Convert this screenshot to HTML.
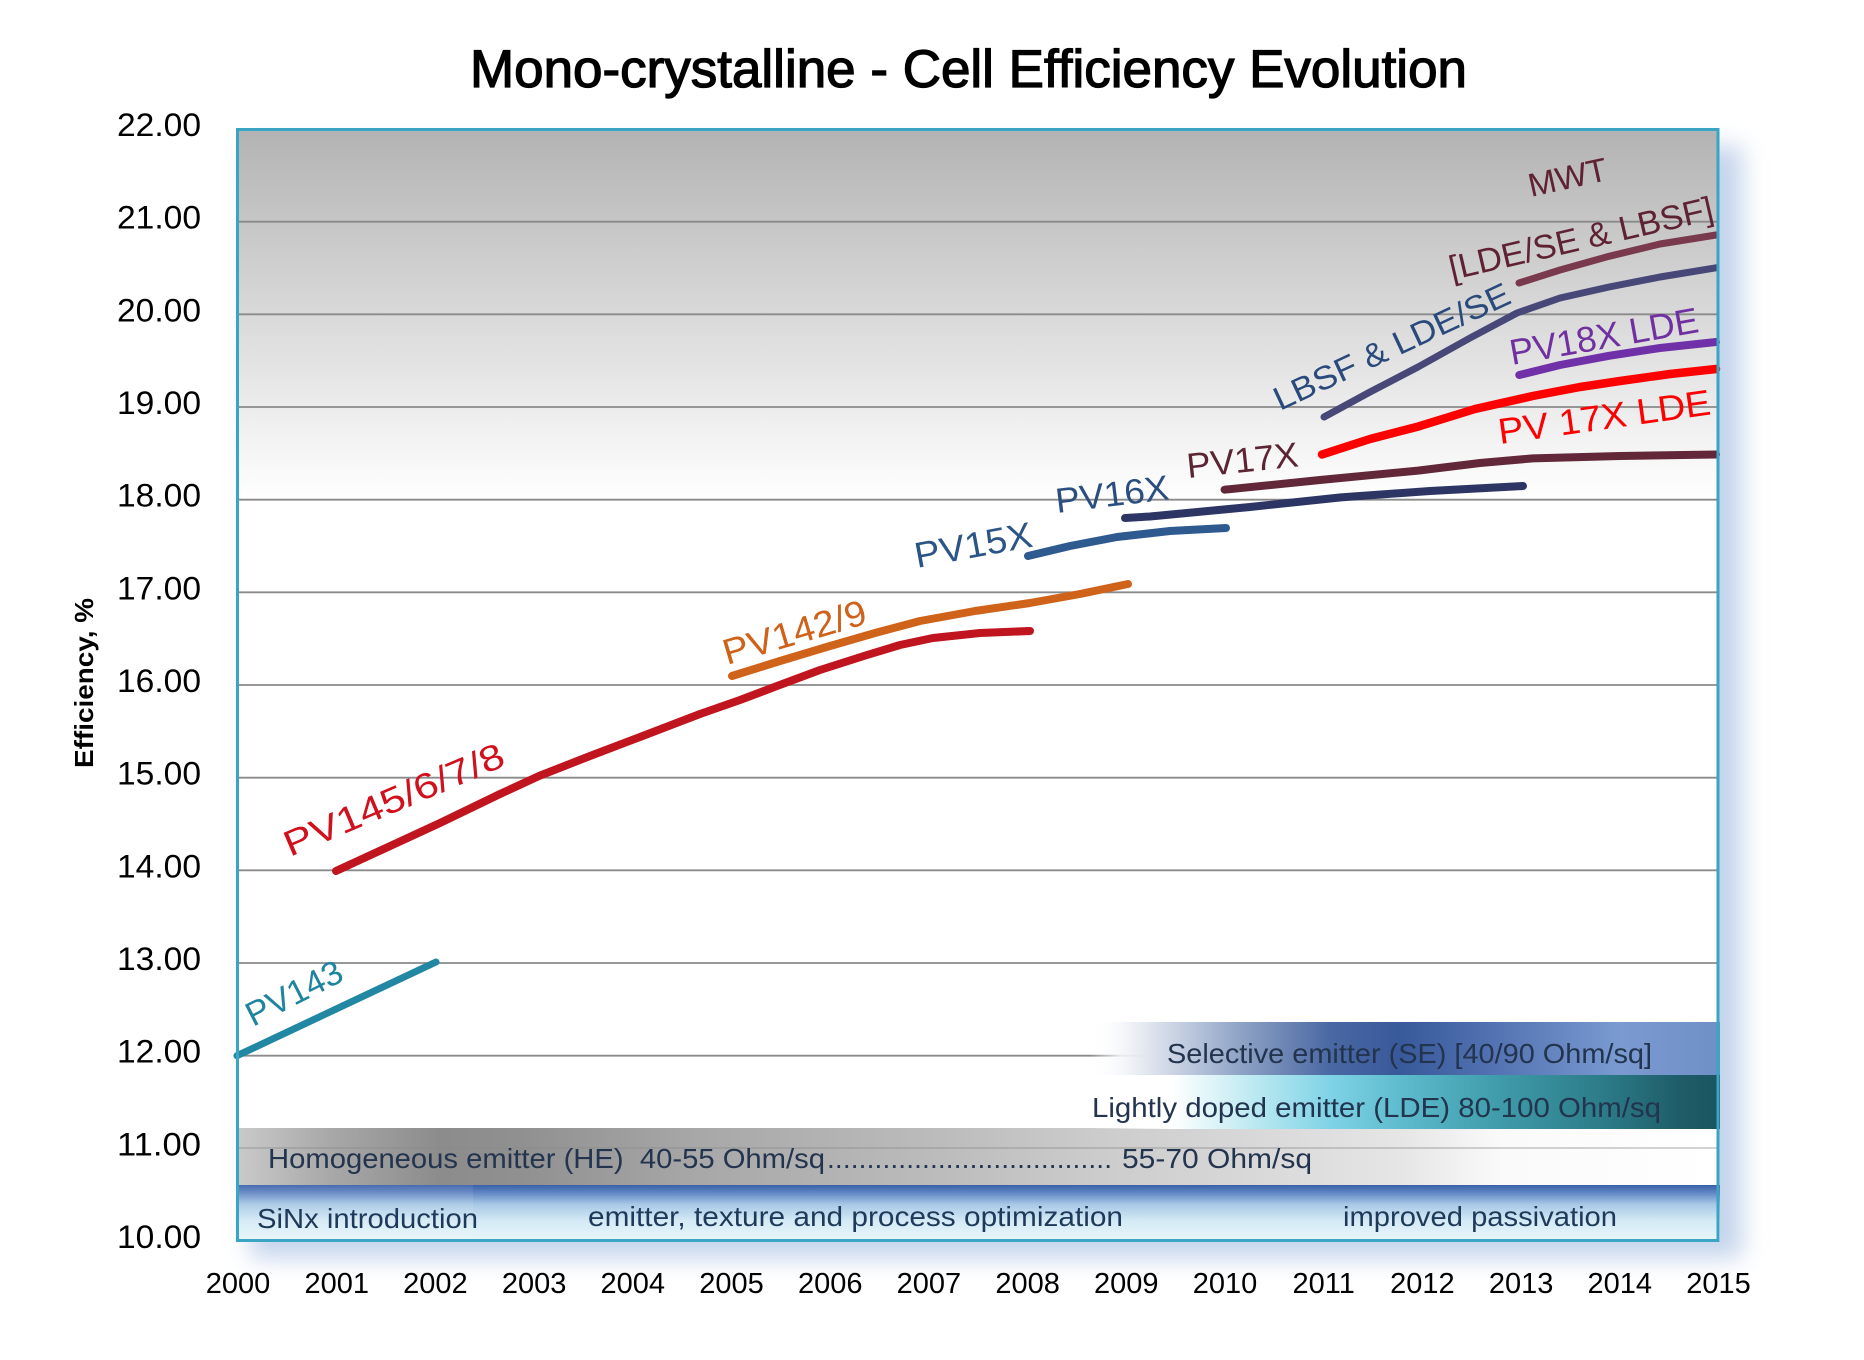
<!DOCTYPE html>
<html>
<head>
<meta charset="utf-8">
<style>
html,body{margin:0;padding:0;background:#ffffff;}
svg{display:block;}
text{font-family:"Liberation Sans",Arial,sans-serif;}
</style>
</head>
<body>
<svg width="1864" height="1360" viewBox="0 0 1864 1360" xmlns="http://www.w3.org/2000/svg">
  <defs>
    <filter id="sh" x="-10%" y="-10%" width="120%" height="120%">
      <feGaussianBlur stdDeviation="12"/>
    </filter>
    <linearGradient id="bg" x1="0" y1="129" x2="0" y2="1241" gradientUnits="userSpaceOnUse">
      <stop offset="0" stop-color="#b3b3b3"/>
      <stop offset="0.334" stop-color="#ffffff"/>
      <stop offset="1" stop-color="#ffffff"/>
    </linearGradient>
    <linearGradient id="he" x1="237" y1="0" x2="1718" y2="0" gradientUnits="userSpaceOnUse">
      <stop offset="0" stop-color="#cacaca"/>
      <stop offset="0.063" stop-color="#a8a8a8"/>
      <stop offset="0.137" stop-color="#8c8c8c"/>
      <stop offset="0.191" stop-color="#909090"/>
      <stop offset="0.313" stop-color="#a8a8a8"/>
      <stop offset="0.475" stop-color="#bcbcbc"/>
      <stop offset="0.583" stop-color="#cccccc"/>
      <stop offset="0.684" stop-color="#d8d8d8"/>
      <stop offset="0.788" stop-color="#e6e6e6"/>
      <stop offset="0.853" stop-color="#fafafa"/>
      <stop offset="1" stop-color="#ffffff"/>
    </linearGradient>
    <linearGradient id="sinx" x1="0" y1="1185" x2="0" y2="1240" gradientUnits="userSpaceOnUse">
      <stop offset="0" stop-color="#3a5fa8"/>
      <stop offset="0.12" stop-color="#5a80c0"/>
      <stop offset="0.35" stop-color="#a8c8e6"/>
      <stop offset="0.65" stop-color="#d4eaf5"/>
      <stop offset="1" stop-color="#e8f5fa"/>
    </linearGradient>
    <linearGradient id="se" x1="1090" y1="0" x2="1720" y2="0" gradientUnits="userSpaceOnUse">
      <stop offset="0" stop-color="#ffffff" stop-opacity="0"/>
      <stop offset="0.05" stop-color="#f4f6fa" stop-opacity="0.9"/>
      <stop offset="0.095" stop-color="#dfe5ee"/>
      <stop offset="0.238" stop-color="#8fa3c6"/>
      <stop offset="0.381" stop-color="#4a68a3"/>
      <stop offset="0.492" stop-color="#38599a"/>
      <stop offset="0.651" stop-color="#5474b3"/>
      <stop offset="0.84" stop-color="#7a9ad1"/>
      <stop offset="1" stop-color="#6f8fc7"/>
    </linearGradient>
    <linearGradient id="lde" x1="1090" y1="0" x2="1720" y2="0" gradientUnits="userSpaceOnUse">
      <stop offset="0" stop-color="#ffffff" stop-opacity="0"/>
      <stop offset="0.13" stop-color="#ffffff"/>
      <stop offset="0.254" stop-color="#bfeaf2"/>
      <stop offset="0.381" stop-color="#7fd3e6"/>
      <stop offset="0.498" stop-color="#5cbacc"/>
      <stop offset="0.657" stop-color="#3e9aa8"/>
      <stop offset="0.816" stop-color="#2c7b88"/>
      <stop offset="0.937" stop-color="#1e5c68"/>
      <stop offset="1" stop-color="#1a5560"/>
    </linearGradient>
  </defs>

  <!-- shadow -->
  <rect x="250" y="146" width="1492" height="1112" fill="#c4d4ec" filter="url(#sh)"/>

  <!-- plot background -->
  <rect x="237" y="129" width="1481" height="1112" fill="url(#bg)"/>

  <!-- gridlines -->
  <g stroke="#8a8a8a" stroke-width="1.8">
    <line x1="237" y1="221.7" x2="1718" y2="221.7"/>
    <line x1="237" y1="314.3" x2="1718" y2="314.3"/>
    <line x1="237" y1="407" x2="1718" y2="407"/>
    <line x1="237" y1="499.7" x2="1718" y2="499.7"/>
    <line x1="237" y1="592.3" x2="1718" y2="592.3"/>
    <line x1="237" y1="685" x2="1718" y2="685"/>
    <line x1="237" y1="777.7" x2="1718" y2="777.7"/>
    <line x1="237" y1="870.3" x2="1718" y2="870.3"/>
    <line x1="237" y1="963" x2="1718" y2="963"/>
    <line x1="237" y1="1055.7" x2="1718" y2="1055.7"/>
  </g>

  <!-- bands -->
  <rect x="237" y="1128" width="1481" height="57" fill="url(#he)"/>
  <line x1="237" y1="1148" x2="1718" y2="1148" stroke="#8a8a8a" stroke-width="1.5" opacity="0.5"/>
  <rect x="1090" y="1022" width="630" height="53" fill="url(#se)"/>
  <rect x="1090" y="1075" width="630" height="54" fill="url(#lde)"/>
  <rect x="237" y="1185" width="1483" height="56" fill="url(#sinx)"/>
  <rect x="237" y="1185" width="236" height="56" fill="#ffffff" opacity="0.08"/>

  <!-- band texts -->
  <g fill="#22344e" font-size="28">
    <text x="1167" y="1063" textLength="485" lengthAdjust="spacingAndGlyphs">Selective emitter (SE) [40/90 Ohm/sq]</text>
    <text x="1092" y="1117" textLength="569" lengthAdjust="spacingAndGlyphs">Lightly doped emitter (LDE) 80-100 Ohm/sq</text>
    <text x="268" y="1168" textLength="557" lengthAdjust="spacingAndGlyphs" style="white-space:pre">Homogeneous emitter (HE)  40-55 Ohm/sq</text>
    <text x="827" y="1168" textLength="285" lengthAdjust="spacing">....................................</text>
    <text x="1122" y="1168" textLength="190" lengthAdjust="spacingAndGlyphs">55-70 Ohm/sq</text>
    <text x="257" y="1228" textLength="221" lengthAdjust="spacingAndGlyphs" fill="#1e3a5a">SiNx introduction</text>
    <text x="588" y="1226" textLength="535" lengthAdjust="spacingAndGlyphs" fill="#1e3a5a">emitter, texture and process optimization</text>
    <text x="1343" y="1226" textLength="274" lengthAdjust="spacingAndGlyphs" fill="#1e3a5a">improved passivation</text>
  </g>

  <!-- series -->
  <g fill="none" stroke-linecap="round" stroke-linejoin="round">
    <polyline points="237,1055.7 436,962" stroke="#2287a2" stroke-width="7"/>
    <polyline points="336,871 440,823 500,794 539,776 590,756 640,737 700,714 740,700 777,686 820,670 867,655 900,645 933,638 980,633 1030,631" stroke="#c0141e" stroke-width="8"/>
    <polyline points="732,676 780,661 830,646 875,633 920,621 975,611 1030,603 1080,594 1128,584" stroke="#d0631a" stroke-width="8"/>
    <polyline points="1028,556 1070,546 1117,537 1170,531 1226,528" stroke="#2e5a90" stroke-width="8"/>
    <polyline points="1125,518 1150,516.5 1250,507 1341,497.4 1430,491 1523,486" stroke="#2d3565" stroke-width="8"/>
    <polyline points="1224.6,489.7 1320,480 1418,470.6 1480,463 1532.7,458.4 1620,456 1716,454.5" stroke="#62283a" stroke-width="8"/>
    <polyline points="1322,454.5 1370,439 1418,426.6 1475,409 1532.7,396 1580,387 1620,381 1670,374 1716,369" stroke="#ff0000" stroke-width="8.5"/>
    <polyline points="1324,417 1370,392 1418,367 1470,338 1517,313 1560,298 1609,287 1660,277 1716,267.8" stroke="#474878" stroke-width="7"/>
    <polyline points="1519,283 1560,270 1609,256.3 1660,244 1716,235" stroke="#7a3a4e" stroke-width="7"/>
    <polyline points="1519.3,375 1560,365 1609,355.8 1660,348 1716,342" stroke="#7030a8" stroke-width="8"/>
  </g>

  <!-- plot border -->
  <rect x="237.5" y="129.5" width="1480.5" height="1111" fill="none" stroke="#3aa5c2" stroke-width="3"/>

  <!-- series labels -->
  <g font-size="36" style="white-space:pre">
    <text transform="translate(253,1027) rotate(-27)" font-size="34" textLength="104" lengthAdjust="spacingAndGlyphs" fill="#1f84a0">PV143</text>
    <text transform="translate(290,857) rotate(-23)" textLength="236" lengthAdjust="spacingAndGlyphs" fill="#d0101c">PV145/6/7/8</text>
    <text transform="translate(727,665) rotate(-16.5)" textLength="148" lengthAdjust="spacingAndGlyphs" fill="#cf6118">PV142/9</text>
    <text transform="translate(917,568) rotate(-10.5)" textLength="119" lengthAdjust="spacingAndGlyphs" fill="#2a5586">PV15X</text>
    <text transform="translate(1057,513) rotate(-7)" font-size="35" textLength="114" lengthAdjust="spacingAndGlyphs" fill="#2a4e80">PV16X</text>
    <text transform="translate(1188,478) rotate(-6)" font-size="35" textLength="112" lengthAdjust="spacingAndGlyphs" fill="#5c2533">PV17X</text>
    <text transform="translate(1280,411) rotate(-25)" font-size="33" textLength="257" lengthAdjust="spacingAndGlyphs" fill="#2a4a7c">LBSF &amp; LDE/SE</text>
    <text transform="translate(1452,280) rotate(-13)" font-size="34" textLength="270" lengthAdjust="spacingAndGlyphs" fill="#5e2233">[LDE/SE &amp; LBSF]</text>
    <text transform="translate(1531,197) rotate(-12.5)" font-size="33" textLength="80" lengthAdjust="spacingAndGlyphs" fill="#5e2233">MWT</text>
    <text transform="translate(1512,365) rotate(-10)" textLength="191" lengthAdjust="spacingAndGlyphs" fill="#7030a0">PV18X LDE</text>
    <text transform="translate(1500,444) rotate(-8)" textLength="214" lengthAdjust="spacingAndGlyphs" fill="#ff0000">PV 17X  LDE</text>
  </g>

  <!-- title -->
  <text x="470" y="87" font-size="53" stroke="#000" stroke-width="1.3" textLength="997" lengthAdjust="spacingAndGlyphs" fill="#000">Mono-crystalline - Cell Efficiency Evolution</text>

  <!-- y axis label -->
  <text transform="translate(93,683) rotate(-90)" text-anchor="middle" font-size="26" font-weight="bold" textLength="170" lengthAdjust="spacingAndGlyphs" fill="#000">Efficiency, %</text>

  <!-- y ticks -->
  <g font-size="32" fill="#000" text-anchor="end">
    <text x="201" y="136" textLength="84" lengthAdjust="spacingAndGlyphs">22.00</text>
    <text x="201" y="228.7" textLength="84" lengthAdjust="spacingAndGlyphs">21.00</text>
    <text x="201" y="321.3" textLength="84" lengthAdjust="spacingAndGlyphs">20.00</text>
    <text x="201" y="414" textLength="84" lengthAdjust="spacingAndGlyphs">19.00</text>
    <text x="201" y="506.7" textLength="84" lengthAdjust="spacingAndGlyphs">18.00</text>
    <text x="201" y="599.3" textLength="84" lengthAdjust="spacingAndGlyphs">17.00</text>
    <text x="201" y="692" textLength="84" lengthAdjust="spacingAndGlyphs">16.00</text>
    <text x="201" y="784.7" textLength="84" lengthAdjust="spacingAndGlyphs">15.00</text>
    <text x="201" y="877.3" textLength="84" lengthAdjust="spacingAndGlyphs">14.00</text>
    <text x="201" y="970" textLength="84" lengthAdjust="spacingAndGlyphs">13.00</text>
    <text x="201" y="1062.7" textLength="84" lengthAdjust="spacingAndGlyphs">12.00</text>
    <text x="201" y="1155.3" textLength="84" lengthAdjust="spacingAndGlyphs">11.00</text>
    <text x="201" y="1248" textLength="84" lengthAdjust="spacingAndGlyphs">10.00</text>
  </g>

  <!-- x ticks -->
  <g font-size="29" fill="#000" text-anchor="middle">
    <text x="238" y="1293">2000</text>
    <text x="336.7" y="1293">2001</text>
    <text x="435.4" y="1293">2002</text>
    <text x="534.1" y="1293">2003</text>
    <text x="632.8" y="1293">2004</text>
    <text x="731.5" y="1293">2005</text>
    <text x="830.2" y="1293">2006</text>
    <text x="928.9" y="1293">2007</text>
    <text x="1027.6" y="1293">2008</text>
    <text x="1126.3" y="1293">2009</text>
    <text x="1225" y="1293">2010</text>
    <text x="1323.7" y="1293">2011</text>
    <text x="1422.4" y="1293">2012</text>
    <text x="1521.1" y="1293">2013</text>
    <text x="1619.8" y="1293">2014</text>
    <text x="1718.5" y="1293">2015</text>
  </g>
</svg>
</body>
</html>
